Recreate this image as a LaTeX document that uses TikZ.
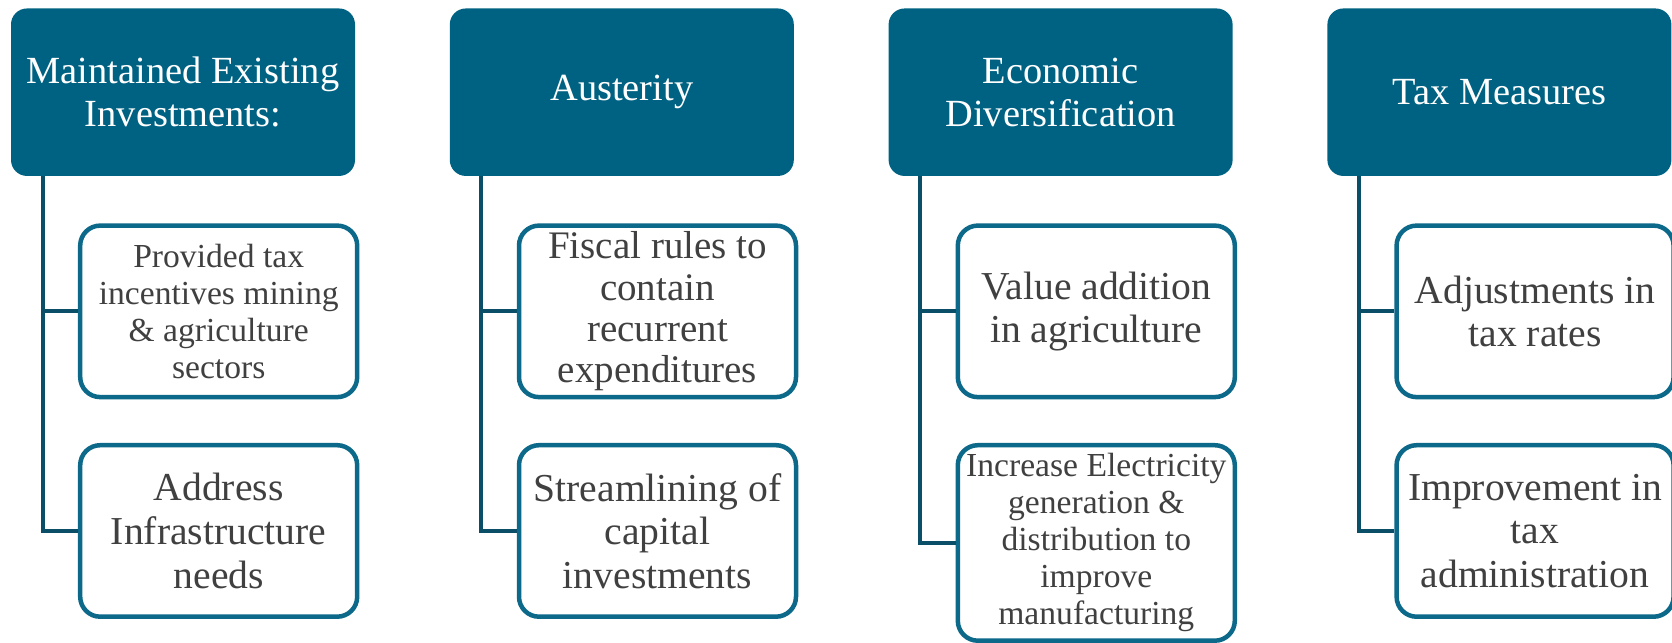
\documentclass[tikz,border=0pt]{standalone}
\usepackage{fontspec}
\setmainfont{Liberation Serif}
\usetikzlibrary{positioning,calc}
\definecolor{headblue}{RGB}{0,98,130}
\definecolor{boxblue}{RGB}{12,105,137}
\definecolor{linkblue}{RGB}{10,78,104}
\definecolor{textgray}{RGB}{64,64,64}
\tikzset{
  head/.style={fill=headblue, rounded corners=8pt, minimum width=172pt, minimum height=83.75pt,
    text=white, align=center, inner sep=2pt, font=\fontsize{19.2}{21.4}\selectfont},
  item/.style={draw=boxblue, line width=2.25pt, fill=white, rounded corners=10pt,
    minimum width=138.5pt, minimum height=85.75pt, text=textgray, align=center,
    inner xsep=1pt, inner ysep=0pt, font=\fontsize{19.8}{21.8}\selectfont},
  small/.style={font=\fontsize{16.8}{18.5}\selectfont},
  link/.style={draw=linkblue, line width=2pt},
}

\begin{document}
\begin{tikzpicture}
    \useasboundingbox (0,0) rectangle (836pt,-321.5pt);

    % headers
    \node[head] (h1) at (91.5pt,-46.1pt) {Maintained Existing\\Investments:};
    \node[head, right=47pt of h1] (h2) {Austerity};
    \node[head, right=47pt of h2] (h3) {Economic\\Diversification};
    \node[head, right=47pt of h3] (h4) {Tax Measures};

    % items under each header
    \node[item, small, below=23.5pt of h1, xshift=17.85pt] (c11) {Provided tax\\incentives mining\\\& agriculture\\sectors};
    \node[item, below=21.8pt of c11] (c12) {Address\\Infrastructure\\needs};

    \node[item, font=\fontsize{19.5}{20.6}\selectfont, below=23.5pt of h2, xshift=17.85pt] (c21) {Fiscal rules to\\contain\\recurrent\\expenditures};
    \node[item, below=21.8pt of c21] (c22) {Streamlining of\\capital\\investments};

    \node[item, below=23.5pt of h3, xshift=17.85pt] (c31) {Value addition\\in agriculture};
    \node[item, small, minimum height=97.75pt, below=21.8pt of c31] (c32) {Increase Electricity\\generation \&\\distribution to\\improve\\manufacturing};

    \node[item, below=23.5pt of h4, xshift=17.85pt] (c41) {Adjustments in\\tax rates};
    \node[item, below=21.8pt of c41] (c42) {Improvement in\\tax\\administration};

    % tree connectors
    \foreach \col in {1,2,3,4} {
      \coordinate (t\col) at ($(h\col.south west)+(16pt,0)$);
      \draw[link] (t\col) |- (c\col1.west);
      \draw[link] (t\col) |- (c\col2.west);
    }
\end{tikzpicture}
\end{document}
